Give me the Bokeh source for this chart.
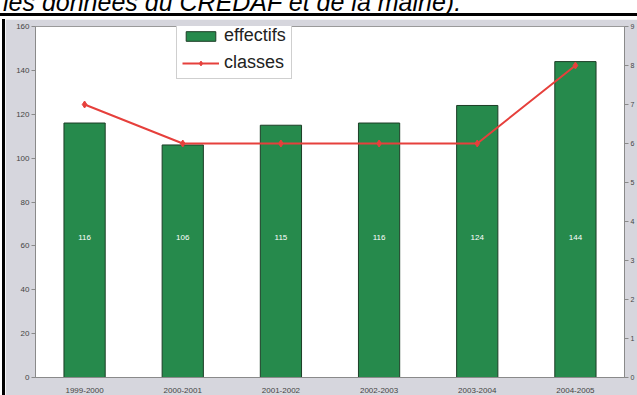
from bokeh.plotting import figure
from bokeh.models import (ColumnDataSource, Range1d, LinearAxis, FixedTicker,
                          Legend, LegendItem, Div)
from bokeh.layouts import column, row
from bokeh.embed import file_html
from bokeh.resources import INLINE

# School years, pupils (effectifs) and number of classes
years = ["1999-2000", "2000-2001", "2001-2002", "2002-2003", "2003-2004", "2004-2005"]
effectifs = [116, 106, 115, 116, 124, 144]
classes = [7, 6, 6, 6, 6, 8]
left_ticks = [0, 20, 40, 60, 80, 100, 120, 140, 160]
right_ticks = [0, 1, 2, 3, 4, 5, 6, 7, 8, 9]
caption = "les données du CREDAF et de la mairie)."

FONT = "Liberation Sans"
PANEL = "#d6d6dd"
GREEN = "#268a4c"
RED = "#e6403c"

src = ColumnDataSource(dict(
    year=years,
    effectifs=effectifs,
    classes=classes,
    lab=[str(v) for v in effectifs],
    lab_y=[64] * len(years),
))

p = figure(width=632, height=376, x_range=years, y_range=Range1d(0, 160),
           output_backend="svg", toolbar_location=None, margin=0,
           min_border_left=30, min_border_right=11,
           min_border_top=7, min_border_bottom=16)
p.border_fill_color = PANEL
p.background_fill_color = "white"
p.outline_line_color = "#9a9a9a"
p.outline_line_width = 1
p.xgrid.grid_line_color = None
p.ygrid.grid_line_color = None

p.extra_y_ranges = {"classes": Range1d(0, 9)}

# left axis (pupils)
ya = p.yaxis[0]
ya.ticker = FixedTicker(ticks=left_ticks)
ya.minor_tick_line_color = None
ya.major_tick_in = 0
ya.major_tick_out = 4
ya.major_label_standoff = 2
ya.axis_line_color = "#8a8a8a"
ya.major_tick_line_color = "#8a8a8a"
ya.major_label_text_font = FONT
ya.major_label_text_font_size = "8px"
ya.major_label_text_color = "#444444"

# right axis (classes)
ra = LinearAxis(y_range_name="classes", ticker=FixedTicker(ticks=right_ticks))
ra.minor_tick_line_color = None
ra.major_tick_in = 0
ra.major_tick_out = 4
ra.major_label_standoff = 2
ra.axis_line_color = "#8a8a8a"
ra.major_tick_line_color = "#8a8a8a"
ra.major_label_text_font = FONT
ra.major_label_text_font_size = "7px"
ra.major_label_text_color = "#444444"
p.add_layout(ra, "right")

# bottom axis (years)
xa = p.xaxis[0]
xa.major_tick_line_color = None
xa.axis_line_color = "#8a8a8a"
xa.major_label_standoff = 4
xa.major_label_text_font = FONT
xa.major_label_text_font_size = "8px"
xa.major_label_text_color = "#444444"

bars = p.vbar(x="year", top="effectifs", width=0.42, source=src,
              fill_color=GREEN, line_color="#1c3d26", line_width=1)
p.text(x="year", y="lab_y", text="lab", source=src, text_color="white",
       text_font_size="8px", text_align="center", text_baseline="middle",
       text_font={"value": FONT})

line = p.line(x="year", y="classes", source=src, y_range_name="classes",
              line_color=RED, line_width=2)
marks = p.scatter(x="year", y="classes", source=src, y_range_name="classes",
                  marker="diamond", size=7, fill_color=RED, line_color=RED)

legend = Legend(items=[LegendItem(label="effectifs", renderers=[bars]),
                       LegendItem(label="classes", renderers=[line, marks])],
                location=(141, 298), orientation="vertical")
legend.label_text_font = FONT
legend.label_text_font_size = "18px"
legend.label_text_color = "#222222"
legend.glyph_width = 37
legend.glyph_height = 12
legend.label_height = 20
legend.spacing = 6
legend.padding = 5
legend.margin = 0
legend.label_standoff = 5
legend.border_line_color = "#a0a0a0"
legend.background_fill_color = "white"
legend.background_fill_alpha = 1
p.add_layout(legend, "center")

# caption line above the framed chart (only its lower part shows)
head = Div(
    text=('<div style="position:relative;width:637px;height:16px;overflow:hidden;'
          'background:white;border-bottom:3px solid black;">'
          '<span style="position:absolute;left:3px;top:-10px;white-space:nowrap;'
          f'font-family:\'{FONT}\';font-style:italic;font-size:25px;line-height:25px;'
          f'color:black;">{caption}</span></div>'),
    width=637, height=19, margin=0)
edge = Div(text="", width=5, height=376, margin=0,
           styles={"background-color": "black", "border-left": "2px solid white",
                   "box-sizing": "border-box"})

layout = column(head, row(edge, p, spacing=0, margin=0), spacing=0, margin=0)

open("out.html", "w").write(file_html(layout, INLINE))
